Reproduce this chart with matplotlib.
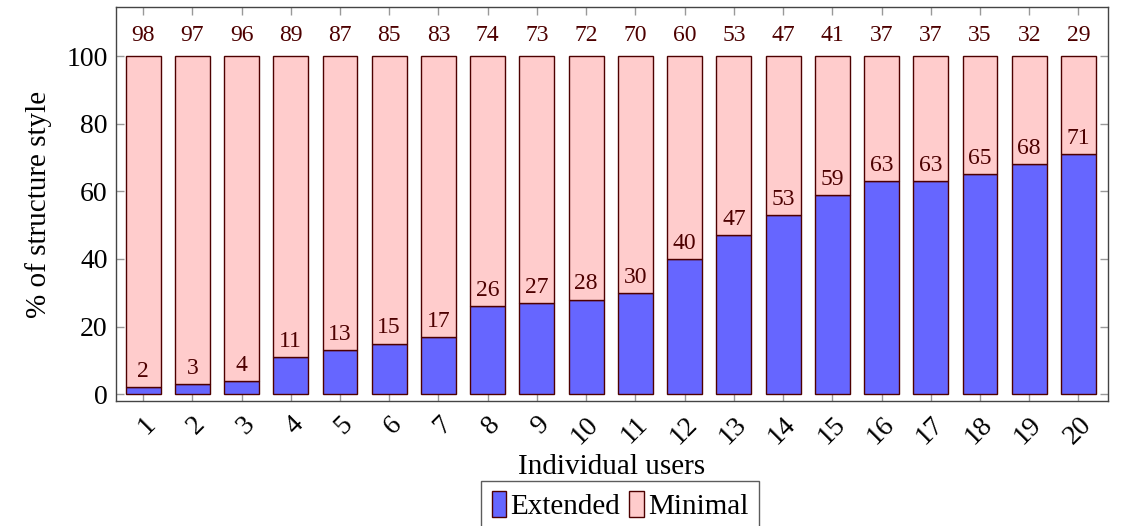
import matplotlib
matplotlib.use("Agg")
import matplotlib.pyplot as plt
import numpy as np

users = [str(i) for i in range(1, 21)]
extended = [2, 3, 4, 11, 13, 15, 17, 26, 27, 28, 30, 40, 47, 53, 59, 63, 63, 65, 68, 71]
minimal = [98, 97, 96, 89, 87, 85, 83, 74, 73, 72, 70, 60, 53, 47, 41, 37, 37, 35, 32, 29]

plt.rcParams['font.family'] = ['Liberation Serif', 'DejaVu Serif']

fig = plt.figure(figsize=(11.26, 5.26), dpi=100)
ax = fig.add_axes([116/1126, 1 - 401/526, (1108-116)/1126, (401-7)/526])

x = np.arange(1, 21)
blue = '#6666ff'
pink = '#ffcccc'
edge = '#4d0000'
txt = '#4d0000'
w = 0.71
ax.bar(x, extended, width=w, color=blue, edgecolor=edge, linewidth=1.0, label='Extended', zorder=2)
ax.bar(x, minimal, width=w, bottom=extended, color=pink, edgecolor=edge, linewidth=1.0, label='Minimal', zorder=2)

for xi, e, m in zip(x, extended, minimal):
    ax.text(xi, e + 1.5, str(e), ha='center', va='bottom', fontsize=17, color=txt, zorder=3)
    ax.text(xi, e + m + 3.0, str(m), ha='center', va='bottom', fontsize=17, color=txt, zorder=3)

ax.set_xlim(0.45, 20.6)
ax.set_ylim(-2, 114.5)
ax.set_xticks(x)
ax.set_xticklabels(users, rotation=45, ha='right', rotation_mode='anchor', fontsize=20)
ax.set_yticks([0, 20, 40, 60, 80, 100])
ax.tick_params(axis='y', labelsize=20, pad=6)
ax.tick_params(direction='in', top=True, right=True, length=6, color='#999999', width=1)
ax.tick_params(axis='x', pad=8)
for s in ax.spines.values():
    s.set_color('#444444')
    s.set_linewidth(1.0)

ax.set_ylabel('% of structure style', fontsize=21, labelpad=10)
ax.set_xlabel('Individual users', fontsize=21, labelpad=3)

leg = ax.legend(loc='upper center', bbox_to_anchor=(0.508, -0.203), ncol=2, fontsize=21,
                frameon=True, fancybox=False, edgecolor='#333333', handlelength=0.5,
                handleheight=1.0, handletextpad=0.15, columnspacing=0.3, borderpad=0.35,
                borderaxespad=0)
leg.get_frame().set_linewidth(1.0)

fig.savefig('out.png', dpi=100)
